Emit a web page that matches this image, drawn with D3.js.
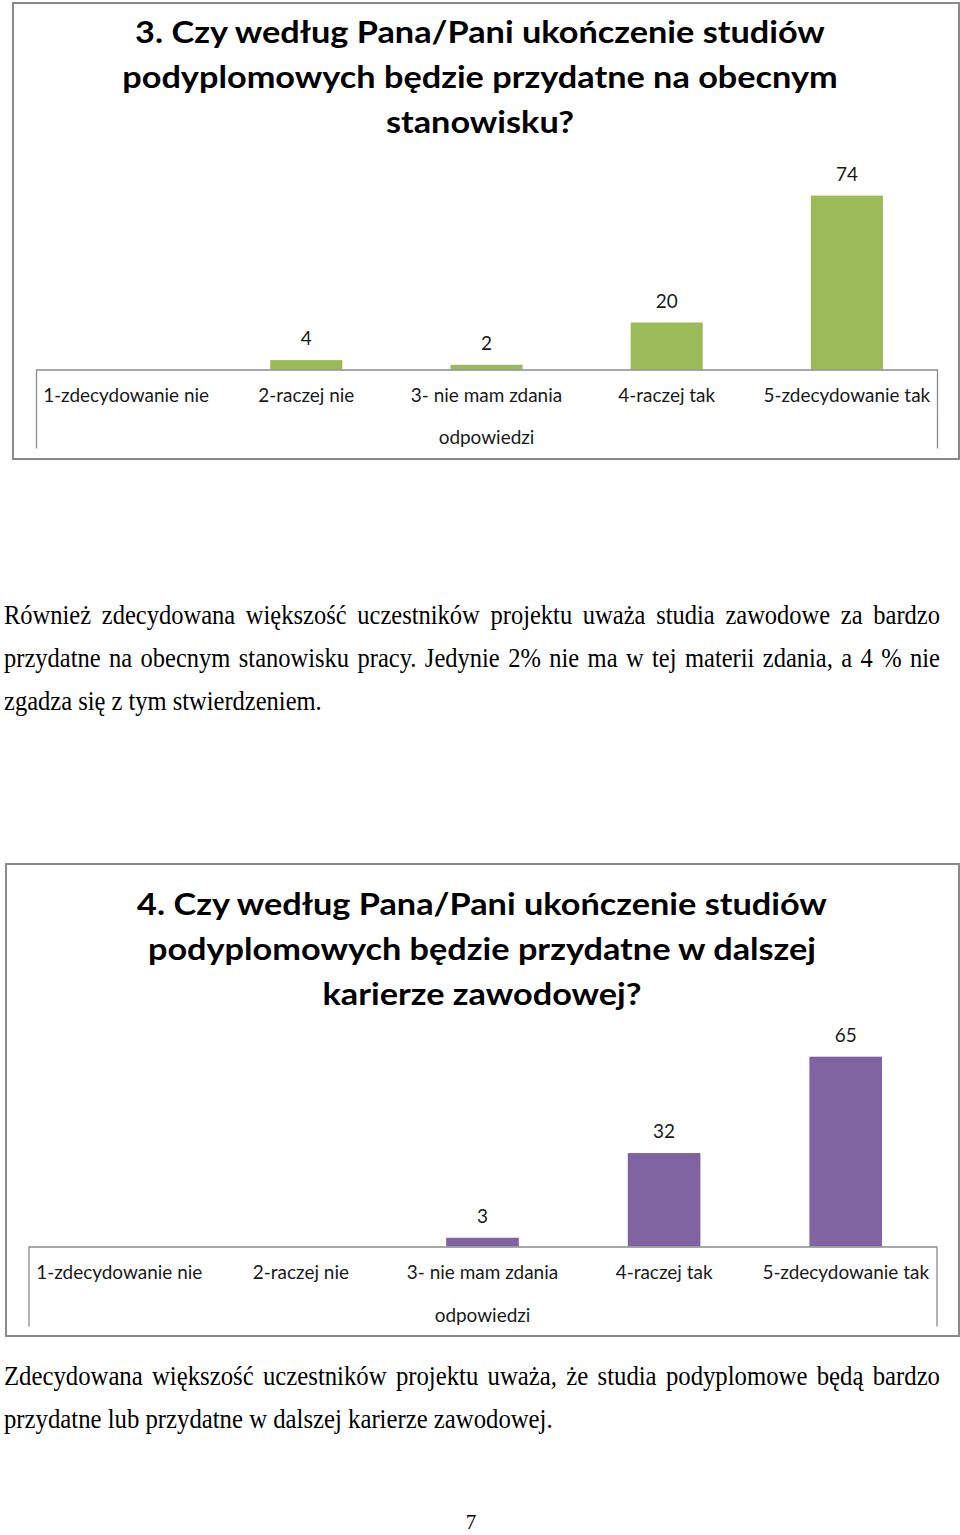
<!DOCTYPE html>
<html>
<head>
<meta charset="utf-8">
<script src="https://cdn.jsdelivr.net/npm/d3@7"></script>
<style>
  html, body { margin: 0; padding: 0; background: #fff; }
  svg { display: block; }
</style>
</head>
<body>
<svg id="page" width="960" height="1535"></svg>
<script>
// ---------- data ----------
const categories = ["1-zdecydowanie nie", "2-raczej nie", "3- nie mam zdania", "4-raczej tak", "5-zdecydowanie tak"];
const values3 = [null, 4, 2, 20, 74];
const values4 = [null, null, 3, 32, 65];
const title3 = ["3. Czy według Pana/Pani ukończenie studiów", "podyplomowych będzie przydatne na obecnym", "stanowisku?"];
const title4 = ["4. Czy według Pana/Pani ukończenie studiów", "podyplomowych będzie przydatne w dalszej", "karierze zawodowej?"];
const axisTitle = "odpowiedzi";
const para1 = [
  "Również zdecydowana większość uczestników projektu uważa studia zawodowe za bardzo",
  "przydatne na obecnym stanowisku pracy. Jedynie 2% nie ma w tej materii zdania, a 4 % nie",
  "zgadza się z tym stwierdzeniem."
];
const para2 = [
  "Zdecydowana większość uczestników projektu uważa, że studia podyplomowe będą bardzo",
  "przydatne lub przydatne w dalszej karierze zawodowej."
];
const pageNumber = "7";

// ---------- drawing ----------
const svg = d3.select("#page");
svg.append("rect").attr("width", 960).attr("height", 1535).attr("fill", "#fff");

const SANS = "Lato, 'Open Sans', sans-serif";
const SERIF = "'Liberation Serif', 'Times New Roman', serif";

function drawChart(cfg) {
  const g = svg.append("g");
  // frame
  g.append("rect")
    .attr("x", cfg.frame[0]).attr("y", cfg.frame[1])
    .attr("width", cfg.frame[2] - cfg.frame[0]).attr("height", cfg.frame[3] - cfg.frame[1])
    .attr("fill", "#fff").attr("stroke", "#8a8a8a").attr("stroke-width", 2);

  // title
  const tg = g.append("g");
  const tt = tg.selectAll("text").data(cfg.title).join("text")
    .attr("text-anchor", "middle")
    .attr("font-family", SANS).attr("font-weight", 700).attr("font-size", 30)
    .attr("fill", "#000")
    .text(d => d);
  const w0 = tt.nodes()[0].getComputedTextLength();
  const s = cfg.titleWidth / w0;
  tt.attr("transform", (d, i) => `translate(${cfg.titleCx},${cfg.titleBase + i * 45}) scale(${s},1)`);

  const x = d3.scaleBand().domain(categories).range([cfg.left, cfg.right])
    .paddingInner(0.6).paddingOuter(0.3);
  const y = d3.scaleLinear().domain([0, cfg.max]).range([cfg.base, cfg.top]);

  const data = categories.map((c, i) => ({ c, v: cfg.values[i] })).filter(d => d.v != null);

  g.selectAll("rect.bar").data(data).join("rect").attr("class", "bar")
    .attr("x", d => x(d.c)).attr("width", x.bandwidth())
    .attr("y", d => y(d.v)).attr("height", d => y(0) - y(d.v))
    .attr("fill", cfg.color);

  // axis
  const ax = g.append("g").attr("transform", `translate(0,${cfg.base})`)
    .call(d3.axisBottom(x).tickSizeInner(0).tickSizeOuter(cfg.axisDrop).tickPadding(0));
  ax.select(".domain").attr("stroke", "#8c8c8c").attr("stroke-width", 1.3);
  const ticks = ax.selectAll(".tick text")
    .attr("font-family", SANS).attr("font-size", 19).attr("fill", "#1a1a1a")
    .attr("y", cfg.labelOff).attr("dy", 0);
  const lw = ticks.nodes()[0].getComputedTextLength();
  const ls = cfg.labelWidth / lw;
  ticks.attr("transform", `scale(${ls},1)`);

  // axis title
  g.append("text")
    .attr("text-anchor", "middle")
    .attr("font-family", SANS).attr("font-size", 19).attr("fill", "#1a1a1a")
    .attr("transform", `translate(${(cfg.left + cfg.right) / 2},${cfg.base + cfg.axisTitleOff}) scale(${ls},1)`)
    .text(axisTitle);

  // value labels
  g.selectAll("text.val").data(data).join("text").attr("class", "val")
    .attr("text-anchor", "middle")
    .attr("font-family", SANS).attr("font-size", 19).attr("fill", "#1a1a1a")
    .attr("transform", d => `translate(${x(d.c) + x.bandwidth() / 2},${y(d.v) - 15}) scale(${ls},1)`)
    .text(d => d.v);
}

drawChart({
  frame: [13, 3, 959, 459],
  title: title3, titleCx: 480, titleBase: 43, titleWidth: 690,
  left: 36, right: 937, base: 369.5, top: 181.5, max: 80,
  values: values3, color: "#9bbb59",
  axisDrop: 79, labelOff: 32.5, labelWidth: 166, axisTitleOff: 74
});

drawChart({
  frame: [6, 864, 959, 1336],
  title: title4, titleCx: 482, titleBase: 915, titleWidth: 690,
  left: 28.5, right: 936.5, base: 1246.5, top: 1042.1, max: 70,
  values: values4, color: "#8064a2",
  axisDrop: 80, labelOff: 32.5, labelWidth: 166, axisTitleOff: 75
});

// paragraphs
function drawPara(lines, x0, base0, lineH, fullW, lastW) {
  const g = svg.append("g");
  const t = g.selectAll("text").data(lines).join("text")
    .attr("font-family", SERIF).attr("font-size", 28).attr("fill", "#000")
    .attr("xml:space", "preserve")
    .text(d => d);
  const nodes = t.nodes();
  const lastNat = nodes[nodes.length - 1].getComputedTextLength();
  const s = lastW / lastNat;
  t.each(function (d, i) {
    const el = d3.select(this);
    el.attr("transform", `translate(${x0},${base0 + i * lineH}) scale(${s},1)`);
    if (i < lines.length - 1) {
      const nat = this.getComputedTextLength();
      const spaces = (d.match(/ /g) || []).length;
      const extra = (fullW / s - nat) / spaces;
      el.attr("word-spacing", extra);
    }
  });
}
drawPara(para1, 4, 624, 43, 936, 318);
drawPara(para2, 4, 1385, 43, 936, 549);

svg.append("text")
  .attr("x", 471).attr("y", 1529)
  .attr("text-anchor", "middle")
  .attr("font-family", SERIF).attr("font-size", 21).attr("fill", "#000")
  .text(pageNumber);
</script>
</body>
</html>
